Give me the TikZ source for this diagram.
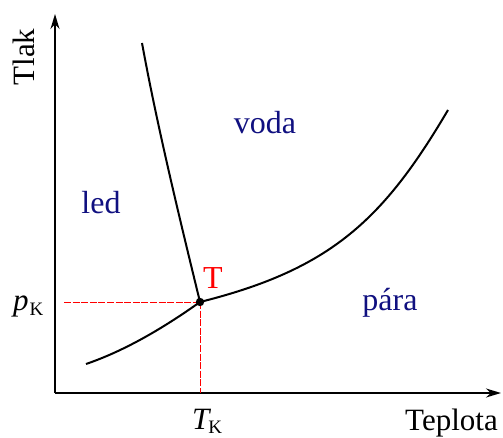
\documentclass[tikz,border=0pt]{standalone}
\usepackage{fontspec}
\setmainfont{Liberation Serif}
\newfontfamily\tnr{Liberation Serif}
\usetikzlibrary{arrows.meta}
\definecolor{navy}{RGB}{16,16,128}
\begin{document}
\begin{tikzpicture}[x=1pt,y=1pt,
  axis/.style={line width=1.8pt,-{Stealth[length=15pt,width=9pt]}},
  curve/.style={line width=2pt},
  guide/.style={red,line width=1pt,dash pattern=on 7pt off 1.6pt},
  lbl/.style={inner sep=0pt,anchor=base,font=\tnr\fontsize{31}{31}\selectfont},
  phase/.style={lbl,text=navy,font=\tnr\fontsize{32}{32}\selectfont}]
\useasboundingbox (0,0) rectangle (503,437);
\coordinate (O) at (55,44);
\coordinate (Ytop) at (55,423);
\coordinate (Xend) at (501,44);
\coordinate (TP) at (200,135);
\coordinate (PL) at (64,135);
\coordinate (TB) at (200,44);
\coordinate (M0) at (142,394);
\coordinate (S0) at (86,73);
\coordinate (V1) at (448,327);
\draw[axis] (O) -- (Ytop);
\draw[axis] (O) -- (Xend);
\draw[guide] (PL) -- (TP);
\draw[guide] (TP) -- (TB);
\draw[curve] (M0) .. controls (157,312) and (179,221) .. (TP);
\draw[curve] (TP) .. controls (330,167.5) and (383,216.5) .. (V1);
\draw[curve] (S0) .. controls (124,86) and (162,108) .. (TP);
\fill (TP) circle (4.2pt);
\node[phase] (voda) at (265,303) {voda};
\node[phase] (led) at (101,224) {led};
\node[phase] (para) at (390,127) {pára};
\node[lbl,text=red,font=\tnr\fontsize{32}{32}\selectfont] (T) at (213,149) {T};
\node[lbl,anchor=base west] (pK) at (13,127) {\itshape p\kern1pt\raisebox{-5pt}{\upshape\fontsize{19}{19}\selectfont K}};
\node[lbl,anchor=base west] (TK) at (192,8) {\itshape T\kern-1pt\raisebox{-4pt}{\upshape\fontsize{19}{19}\selectfont K}};
\node[lbl,anchor=base west] (tep) at (405,7) {Teplota};
\node[lbl,rotate=90] (tlak) at (35,380) {Tlak};
\end{tikzpicture}
\end{document}
